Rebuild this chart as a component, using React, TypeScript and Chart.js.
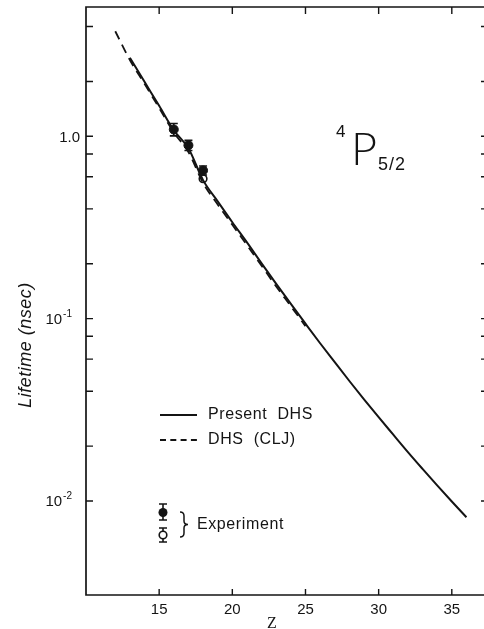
import React, { useEffect, useRef } from "react";
import { Chart, registerables } from "chart.js";

Chart.register(...registerables);

// Calculated lifetimes of the 4P5/2 level along the isoelectronic sequence (nsec)
const presentZ = [13, 14, 15, 16, 17, 18, 19, 20, 21, 22, 23, 24, 25, 26, 27, 28, 29, 30, 31, 32, 33, 34, 35, 36];
const presentLifetime = [
  2.7, 1.99, 1.47, 1.08, 0.86, 0.575, 0.44, 0.338, 0.262, 0.2011, 0.1552, 0.1204,
  0.0938, 0.0733, 0.0577, 0.0455, 0.0361, 0.0288, 0.0231, 0.01855, 0.015, 0.01217, 0.00993, 0.00814,
];

const cljZ = [12, 13, 14, 15, 16, 17, 18, 19, 20, 21, 22, 23, 24, 25];
const cljLifetime = [3.77, 2.62, 1.94, 1.43, 1.05, 0.82, 0.555, 0.423, 0.327, 0.253, 0.195, 0.15, 0.117, 0.091];

// Measured lifetimes
const expFilledZ = [16, 17, 18];
const expFilledLifetime = [1.09, 0.893, 0.65];
const expFilledError = [0.085, 0.057, 0.037];

const expOpenZ = [18];
const expOpenLifetime = [0.585];
const expOpenError = [0];

// Axes
const xMin = 10;
const xMax = 37.2;
const xTicks = [15, 20, 25, 30, 35];
const yMin = 0.00305;
const yMax = 5.12;
const yMajorTicks = [1, 0.1, 0.01];
const yMajorBase = ["1.0", "10", "10"];
const yMajorExp = ["", "-1", "-2"];
const yMinorTicks = [4, 2, 0.8, 0.6, 0.4, 0.2, 0.08, 0.06, 0.04, 0.02];

const INK = "#141414";
const SANS = "'Liberation Sans', Arial, sans-serif";

function drawErrorBar(ctx: CanvasRenderingContext2D, x: number, yTop: number, yBot: number, cap: number) {
  ctx.beginPath();
  ctx.moveTo(x, yTop);
  ctx.lineTo(x, yBot);
  ctx.moveTo(x - cap, yTop);
  ctx.lineTo(x + cap, yTop);
  ctx.moveTo(x - cap, yBot);
  ctx.lineTo(x + cap, yBot);
  ctx.stroke();
}

const errorBarPlugin = {
  id: "errorBars",
  afterDatasetsDraw(chart: any) {
    const { ctx, scales } = chart;
    ctx.save();
    ctx.strokeStyle = INK;
    ctx.lineWidth = 1.6;
    chart.data.datasets.forEach((ds: any) => {
      if (!ds.errors) return;
      ds.data.forEach((p: any, i: number) => {
        const e = ds.errors[i];
        if (!e) return;
        const px = scales.x.getPixelForValue(p.x);
        drawErrorBar(ctx, px, scales.y.getPixelForValue(p.y + e), scales.y.getPixelForValue(p.y - e), 4);
      });
    });
    ctx.restore();
  },
};

const framePlugin = {
  id: "frame",
  afterDraw(chart: any) {
    const { ctx, chartArea: a, scales } = chart;
    const xs = scales.x;
    const ys = scales.y;
    ctx.save();
    ctx.strokeStyle = INK;
    ctx.lineWidth = 1.7;
    ctx.beginPath();
    ctx.moveTo(a.right, a.top);
    ctx.lineTo(a.left, a.top);
    ctx.lineTo(a.left, a.bottom);
    ctx.lineTo(a.right, a.bottom);
    ctx.stroke();

    ctx.lineWidth = 1.4;
    ctx.beginPath();
    xTicks.forEach((v) => {
      const px = xs.getPixelForValue(v);
      ctx.moveTo(px, a.top);
      ctx.lineTo(px, a.top + 7);
      ctx.moveTo(px, a.bottom);
      ctx.lineTo(px, a.bottom - 6);
    });
    [...yMajorTicks, ...yMinorTicks].forEach((v) => {
      const py = ys.getPixelForValue(v);
      ctx.moveTo(a.left, py);
      ctx.lineTo(a.left + 7, py);
      ctx.moveTo(a.right - 3, py);
      ctx.lineTo(a.right, py);
    });
    ctx.stroke();

    // y tick labels with powers of ten
    ctx.fillStyle = INK;
    ctx.textBaseline = "alphabetic";
    yMajorTicks.forEach((v, i) => {
      const py = ys.getPixelForValue(v);
      const base = yMajorBase[i];
      const exp = yMajorExp[i];
      ctx.font = `15px ${SANS}`;
      if (!exp) {
        ctx.textAlign = "right";
        ctx.fillText(base, a.left - 6, py + 5.5);
      } else {
        ctx.font = `10px ${SANS}`;
        const ew = ctx.measureText(exp).width;
        ctx.textAlign = "right";
        ctx.fillText(exp, a.left - 14, py - 1.5);
        ctx.font = `15px ${SANS}`;
        ctx.fillText(base, a.left - 15 - ew, py + 5.5);
      }
    });

    // axis titles
    ctx.save();
    ctx.translate(26, 345);
    ctx.rotate(-Math.PI / 2);
    ctx.font = `italic 18px ${SANS}`;
    (ctx as any).letterSpacing = "0.5px";
    ctx.textAlign = "center";
    ctx.textBaseline = "middle";
    ctx.fillText("Lifetime (nsec)", 0, 0);
    (ctx as any).letterSpacing = "0px";
    ctx.restore();

    ctx.font = "16px 'Liberation Serif', serif";
    ctx.textAlign = "center";
    ctx.textBaseline = "alphabetic";
    ctx.fillText("Z", 272, 628);

    // term symbol
    ctx.textAlign = "left";
    ctx.font = `17px ${SANS}`;
    ctx.fillText("4", 336, 137);
    ctx.font = "300 45px Lato, 'Open Sans', 'Noto Sans', sans-serif";
    ctx.fillText("P", 351, 165);
    ctx.font = `18px ${SANS}`;
    (ctx as any).letterSpacing = "1px";
    ctx.fillText("5/2", 378, 170);
    (ctx as any).letterSpacing = "0px";

    // legend
    ctx.lineWidth = 2;
    ctx.beginPath();
    ctx.moveTo(160, 415);
    ctx.lineTo(197, 415);
    ctx.stroke();
    ctx.setLineDash([6, 4.3]);
    ctx.beginPath();
    ctx.moveTo(160, 440);
    ctx.lineTo(197, 440);
    ctx.stroke();
    ctx.setLineDash([]);

    ctx.font = `16px ${SANS}`;
    (ctx as any).letterSpacing = "0.6px";
    ctx.textBaseline = "middle";
    ctx.fillText("Present  DHS", 208, 415);
    ctx.fillText("DHS  (CLJ)", 208, 440);
    ctx.fillText("Experiment", 197, 525);
    (ctx as any).letterSpacing = "0px";

    ctx.lineWidth = 1.6;
    drawErrorBar(ctx, 163, 504, 520, 4);
    ctx.beginPath();
    ctx.arc(163, 512.5, 4.5, 0, Math.PI * 2);
    ctx.fill();
    drawErrorBar(ctx, 163, 528, 542, 4);
    ctx.beginPath();
    ctx.arc(163, 535, 3.8, 0, Math.PI * 2);
    ctx.fillStyle = "#fff";
    ctx.fill();
    ctx.stroke();

    // brace
    ctx.lineWidth = 1.5;
    ctx.beginPath();
    ctx.moveTo(180, 512);
    ctx.quadraticCurveTo(184, 512, 184, 516);
    ctx.lineTo(184, 521);
    ctx.quadraticCurveTo(184, 524.5, 188, 524.5);
    ctx.quadraticCurveTo(184, 524.5, 184, 528);
    ctx.lineTo(184, 533);
    ctx.quadraticCurveTo(184, 537, 180, 537);
    ctx.stroke();
    ctx.restore();
  },
};

export default function App() {
  const canvasRef = useRef<HTMLCanvasElement | null>(null);

  useEffect(() => {
    const canvas = canvasRef.current;
    if (!canvas) return;
    const toPoints = (xs: number[], ys: number[]) => xs.map((x, i) => ({ x, y: ys[i] }));

    const chart = new Chart(canvas, {
      type: "scatter",
      data: {
        datasets: [
          {
            label: "Present DHS",
            data: toPoints(presentZ, presentLifetime),
            showLine: true,
            borderColor: INK,
            borderWidth: 2,
            pointRadius: 0,
            cubicInterpolationMode: "monotone",
          },
          {
            label: "DHS (CLJ)",
            data: toPoints(cljZ, cljLifetime),
            showLine: true,
            borderColor: INK,
            borderWidth: 1.8,
            borderDash: [9, 6],
            pointRadius: 0,
            cubicInterpolationMode: "monotone",
          },
          {
            label: "Experiment",
            data: toPoints(expFilledZ, expFilledLifetime),
            errors: expFilledError,
            showLine: false,
            pointRadius: 4.5,
            pointBackgroundColor: INK,
            pointBorderColor: INK,
            pointBorderWidth: 1,
          } as any,
          {
            label: "Experiment (open)",
            data: toPoints(expOpenZ, expOpenLifetime),
            errors: expOpenError,
            showLine: false,
            pointRadius: 3.8,
            pointBackgroundColor: "#fff",
            pointBorderColor: INK,
            pointBorderWidth: 1.6,
          } as any,
        ],
      },
      options: {
        responsive: false,
        animation: false,
        devicePixelRatio: 1,
        layout: { autoPadding: false, padding: { top: 7, right: 0, left: 0, bottom: 0 } },
        plugins: {
          legend: { display: false },
          tooltip: { enabled: false },
        },
        scales: {
          x: {
            type: "linear",
            min: xMin,
            max: xMax,
            bounds: "data",
            grid: { display: false, drawTicks: false },
            border: { display: false },
            afterBuildTicks: (scale: any) => {
              scale.ticks = xTicks.map((value) => ({ value }));
            },
            afterFit: (scale: any) => {
              scale.height = 34;
              scale.paddingLeft = 0;
              scale.paddingRight = 0;
            },
            ticks: {
              color: INK,
              padding: 6,
              font: { family: SANS, size: 15 },
              maxRotation: 0,
              callback: (v: any) => String(v),
            },
          },
          y: {
            type: "logarithmic",
            min: yMin,
            max: yMax,
            bounds: "data",
            grid: { display: false, drawTicks: false },
            border: { display: false },
            ticks: { display: false },
            afterFit: (scale: any) => {
              scale.width = 86;
              scale.paddingTop = 0;
              scale.paddingBottom = 0;
            },
          },
        },
      },
      plugins: [errorBarPlugin, framePlugin],
    } as any);

    return () => chart.destroy();
  }, []);

  return (
    <div style={{ position: "fixed", left: 0, top: 0, width: 484, height: 629, background: "#fff" }}>
      <canvas ref={canvasRef} width={484} height={629} />
    </div>
  );
}
